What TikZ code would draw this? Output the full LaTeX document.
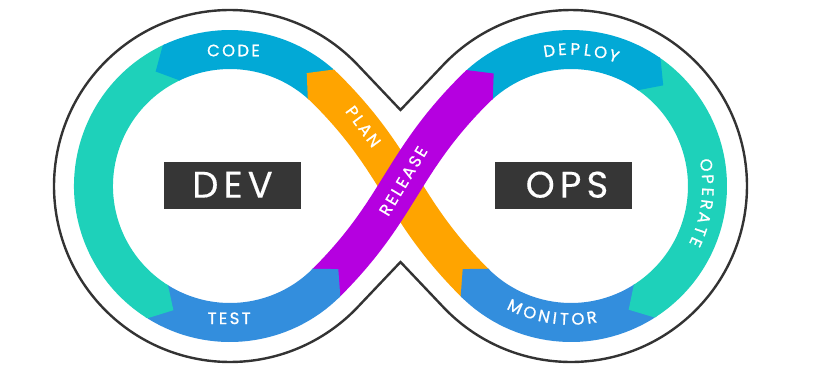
\documentclass[tikz,border=0pt]{standalone}
\usepackage{fontspec}
\newfontfamily\labfont[LetterSpace=14,FakeBold=0.9]{Poppins}
\newfontfamily\letfont[FakeBold=0.9]{Poppins}
\newfontfamily\bigfont[LetterSpace=14,FakeBold=0.3]{Poppins}
\definecolor{cCode}{HTML}{02A9D6}
\definecolor{cTeal}{HTML}{1ED1BA}
\definecolor{cTest}{HTML}{338EDD}
\definecolor{cPlan}{HTML}{FFA400}
\definecolor{cRel}{HTML}{B500E0}
\definecolor{cBox}{HTML}{363636}
\definecolor{cLine}{HTML}{333333}
\newcommand\bandtip[5]{%
  \fill[#5] ([shift={(#1)}]#2:156) -- ([shift={(#1)}]#3:156) -- ([shift={(#1)}]#4:136.5)
    -- ([shift={(#1)}]#3:117) -- ([shift={(#1)}]#2:117) -- cycle;}
\begin{document}
\begin{tikzpicture}[x=1pt,y=1pt,
  band/.style={line width=39pt, line cap=butt},
  outline/.style={draw=cLine, line width=2.4pt, line join=miter},
  lab/.style={font=\labfont\fontsize{16.5pt}{18pt}\selectfont, text=white, inner sep=0pt, anchor=center},
  let/.style={font=\letfont\fontsize{16.5pt}{18pt}\selectfont, text=white, inner sep=0pt, anchor=center},
  box/.style={fill=cBox, minimum width=136.7pt, minimum height=46.4pt, inner sep=0pt},
  big/.style={font=\bigfont\fontsize{37pt}{40pt}\selectfont, text=white, inner sep=0pt, anchor=center}]
\useasboundingbox (-400.5,-182) rectangle (419.5,186);
\fill[white] (-400.5,-182) rectangle (419.5,186);
\coordinate (L) at (-170.5,0);
\coordinate (R) at (170.5,0);
\coordinate (ntop) at (0,76);
\coordinate (nbot) at (0,-76);
% outline
\draw[outline] (ntop) -- ([shift={(L)}]43.48:176) arc[start angle=43.48,end angle=316.52,radius=176]
  -- (nbot) -- ([shift={(R)}]223.48:176) arc[start angle=223.48,end angle=496.52,radius=176] -- cycle;
% band bodies
\draw[band,cCode] ([shift={(L)}]48.3:136.5) arc[start angle=48.3,end angle=115.5,radius=136.5];
\draw[band,cTeal] ([shift={(L)}]115.5:136.5) arc[start angle=115.5,end angle=238,radius=136.5];
\draw[band,cTest] ([shift={(L)}]238:136.5) arc[start angle=238,end angle=315,radius=136.5];
\draw[band,cCode] ([shift={(R)}]132:136.5) arc[start angle=132,end angle=55,radius=136.5];
\draw[band,cTeal] ([shift={(R)}]55:136.5) arc[start angle=55,end angle=-57.5,radius=136.5];
\draw[band,cTest] ([shift={(R)}]-57.5:136.5) arc[start angle=-57.5,end angle=-135,radius=136.5];
\draw[band,cPlan] ([shift={(R)}]225:136.5) .. controls +(135:105) and +(-45:105) .. ([shift={(L)}]45:136.5)
  arc[start angle=45,end angle=48.3,radius=136.5];
\draw[band,cRel] ([shift={(L)}]315:136.5) .. controls +(45:105) and +(225:105) .. ([shift={(R)}]135:136.5)
  arc[start angle=135,end angle=132,radius=136.5];
% arrow tips
\bandtip{L}{47.5}{48.3}{55.8}{cPlan}
\bandtip{L}{114.7}{115.5}{123}{cCode}
\bandtip{L}{237.2}{238}{245.5}{cTeal}
\bandtip{L}{314.2}{315}{322.5}{cTest}
\bandtip{R}{132.8}{132}{124.5}{cRel}
\bandtip{R}{55.8}{55}{47.5}{cCode}
\bandtip{R}{-56.7}{-57.5}{-65}{cTeal}
\bandtip{R}{225.8}{225}{217.5}{cTest}
% straight labels
\node[lab] (code) at (-167,135.5) {CODE};
\node[lab] (test) at (-171.3,-132.3) {TEST};
\node[lab, rotate=-53.5] (plan) at (-37.2,59.5) {PLAN};
\node[lab, rotate=59] (release) at (2.7,5) {RELEASE};
% curved labels
\foreach \ch/\ang [count=\i] in {D/99.1,E/93.6,P/88.2,L/83.0,O/77.5,Y/71.7}
  \node[let, rotate=\ang-90] (deploy\i) at ([shift={(R)}]\ang:137) {\ch};
\foreach \ch/\ang [count=\i] in {O/8.8,P/2.9,E/-2.45,R/-7.8,A/-13.5,T/-19.1,E/-24.2}
  \node[let, rotate=\ang-90] (operate\i) at ([shift={(R)}]\ang:137) {\ch};
\foreach \ch/\ang [count=\i] in {M/245.1,O/252.0,N/258.35,I/263.0,T/267.1,O/273.0,R/279.0}
  \node[let, rotate=\ang+90] (monitor\i) at ([shift={(R)}]\ang:133) {\ch};
% boxes
\node[box] (dev) at (-168.1,0.5) {};
\node[big] (devlabel) at (-168,1.3) {DEV};
\node[box] (ops) at (162.8,0.5) {};
\node[big] (opslabel) at (166.5,1.3) {OPS};
\end{tikzpicture}
\end{document}
